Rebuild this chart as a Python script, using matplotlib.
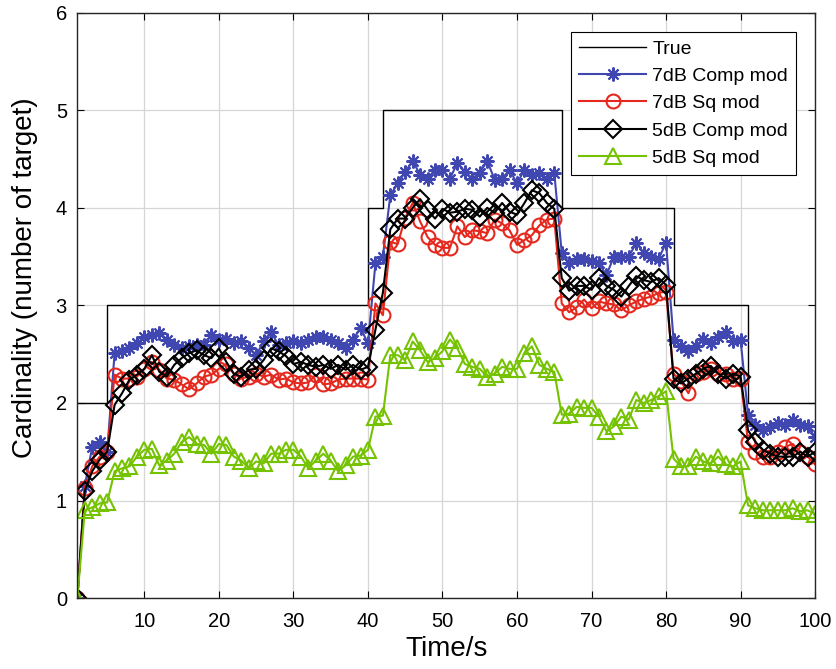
import numpy as np
import matplotlib
matplotlib.use("Agg")
import matplotlib.pyplot as plt

plt.rcParams['font.family'] = ['Liberation Sans', 'DejaVu Sans']

# time axis 1..100 s
t = np.arange(1, 101)

# true cardinality as a staircase (change points and levels)
true_t = [1, 5, 40, 42, 66, 81, 91, 100]
true_n = [2, 3, 4, 5, 4, 3, 2, 2]

comp7 = [0, 1.15, 1.55, 1.6, 1.5, 2.51, 2.53, 2.56, 2.61, 2.68,
         2.70, 2.72, 2.65, 2.59, 2.56, 2.58, 2.59, 2.59, 2.70, 2.65,
         2.66, 2.61, 2.63, 2.56, 2.49, 2.63, 2.73, 2.59, 2.61, 2.63,
         2.61, 2.65, 2.68, 2.68, 2.65, 2.61, 2.56, 2.65, 2.77, 2.61,
         3.43, 3.50, 4.13, 4.25, 4.37, 4.48, 4.34, 4.30, 4.39, 4.39,
         4.30, 4.46, 4.37, 4.30, 4.36, 4.48, 4.29, 4.30, 4.39, 4.25,
         4.39, 4.34, 4.36, 4.30, 4.36, 3.54, 3.43, 3.48, 3.48, 3.45,
         3.43, 3.31, 3.50, 3.50, 3.50, 3.64, 3.54, 3.50, 3.48, 3.64,
         2.65, 2.58, 2.53, 2.58, 2.66, 2.61, 2.68, 2.73, 2.63, 2.65,
         1.88, 1.77, 1.72, 1.75, 1.79, 1.77, 1.83, 1.77, 1.76, 1.65]

sq7 = [0, 1.13, 1.35, 1.45, 1.5, 2.29, 2.25, 2.25, 2.27, 2.35,
       2.42, 2.34, 2.25, 2.24, 2.19, 2.14, 2.20, 2.27, 2.29, 2.35,
       2.40, 2.30, 2.25, 2.27, 2.30, 2.27, 2.29, 2.24, 2.25, 2.21,
       2.20, 2.21, 2.29, 2.19, 2.20, 2.24, 2.25, 2.25, 2.25, 2.24,
       3.02, 2.90, 3.65, 3.63, 3.90, 4.05, 3.86, 3.70, 3.62, 3.59,
       3.59, 3.81, 3.70, 3.77, 3.76, 3.74, 3.88, 3.84, 3.77, 3.62,
       3.67, 3.72, 3.82, 3.88, 3.89, 3.02, 2.93, 2.98, 3.06, 2.97,
       3.04, 3.02, 3.01, 2.95, 3.00, 3.04, 3.07, 3.09, 3.13, 3.14,
       2.30, 2.22, 2.10, 2.30, 2.32, 2.35, 2.30, 2.30, 2.25, 2.25,
       1.60, 1.50, 1.45, 1.45, 1.50, 1.55, 1.58, 1.50, 1.45, 1.37]

comp5 = [0, 1.10, 1.30, 1.42, 1.50, 1.98, 2.10, 2.24, 2.29, 2.35,
         2.49, 2.32, 2.27, 2.39, 2.46, 2.51, 2.54, 2.49, 2.46, 2.56,
         2.42, 2.30, 2.27, 2.34, 2.35, 2.44, 2.56, 2.53, 2.48, 2.40,
         2.42, 2.39, 2.37, 2.39, 2.35, 2.39, 2.34, 2.39, 2.34, 2.37,
         2.75, 3.13, 3.78, 3.89, 3.89, 4.00, 4.09, 3.98, 3.89, 3.99,
         3.95, 3.96, 3.99, 3.98, 3.91, 4.00, 3.95, 4.05, 3.96, 3.93,
         4.05, 4.18, 4.15, 4.05, 3.99, 3.28, 3.15, 3.20, 3.20, 3.16,
         3.28, 3.20, 3.16, 3.09, 3.20, 3.30, 3.26, 3.24, 3.28, 3.21,
         2.25, 2.20, 2.25, 2.30, 2.35, 2.38, 2.30, 2.25, 2.30, 2.27,
         1.72, 1.60, 1.52, 1.48, 1.45, 1.45, 1.45, 1.50, 1.45, 1.50]

sq5 = [0, 0.90, 0.93, 0.97, 0.98, 1.30, 1.33, 1.35, 1.45, 1.52,
       1.53, 1.36, 1.41, 1.48, 1.60, 1.65, 1.58, 1.57, 1.48, 1.58,
       1.57, 1.45, 1.41, 1.33, 1.40, 1.38, 1.48, 1.48, 1.52, 1.52,
       1.45, 1.33, 1.41, 1.48, 1.41, 1.30, 1.36, 1.45, 1.46, 1.52,
       1.86, 1.87, 2.49, 2.49, 2.44, 2.63, 2.54, 2.42, 2.46, 2.53,
       2.65, 2.56, 2.40, 2.37, 2.35, 2.27, 2.30, 2.37, 2.35, 2.35,
       2.51, 2.58, 2.39, 2.35, 2.32, 1.88, 1.89, 1.96, 1.95, 1.95,
       1.86, 1.71, 1.76, 1.86, 1.83, 2.03, 2.00, 2.03, 2.07, 2.12,
       1.43, 1.35, 1.35, 1.45, 1.40, 1.38, 1.45, 1.37, 1.35, 1.40,
       0.95, 0.92, 0.90, 0.90, 0.90, 0.90, 0.92, 0.89, 0.90, 0.86]

blue = '#4047b0'
red = '#e5281e'
green = '#74c200'

fig = plt.figure(figsize=(8.36, 6.69), dpi=100)
ax = fig.add_axes([0.0925, 0.106, 0.8825, 0.875])

ax.step(true_t, true_n, where='post', color='k', lw=1.0, label='True')
ax.plot(t, comp7, color=blue, lw=1.5, marker=(8, 2, 0), ms=10, mew=1.5,
        label='7dB Comp mod')
ax.plot(t, sq7, color=red, lw=1.5, marker='o', ms=10, mfc='none', mew=1.5,
        label='7dB Sq mod')
ax.plot(t, comp5, color='k', lw=1.5, marker='D', ms=9, mfc='none', mew=1.5,
        label='5dB Comp mod')
ax.plot(t, sq5, color=green, lw=1.5, marker='^', ms=12, mfc='none', mew=1.5,
        label='5dB Sq mod')

ax.set_xlim(1, 100)
ax.set_ylim(0, 6)
ax.set_xticks(np.arange(10, 101, 10))
ax.set_yticks(np.arange(0, 7, 1))
ax.tick_params(direction='in', top=True, right=True, labelsize=14.5, length=5)
ax.tick_params(axis='x', pad=10)
ax.tick_params(axis='y', pad=7.5)
ax.grid(True, color='#d6d6d6', lw=0.9)
ax.set_axisbelow(True)
for s in ax.spines.values():
    s.set_linewidth(1.0)
    s.set_color('#262626')

ax.set_xlabel('Time/s', fontsize=20)
ax.set_ylabel('Cardinality (number of target)', fontsize=20)
ax.xaxis.set_label_coords(0.5, -0.065)
ax.yaxis.set_label_coords(-0.053, 0.547)

leg = ax.legend(loc='upper right', fontsize=14, fancybox=False, framealpha=1,
                edgecolor='k', handlelength=3.45, labelspacing=0.5,
                borderaxespad=1.0, handletextpad=0.3, borderpad=0.4)
leg.get_frame().set_linewidth(0.8)

fig.savefig('out.png', dpi=100)
